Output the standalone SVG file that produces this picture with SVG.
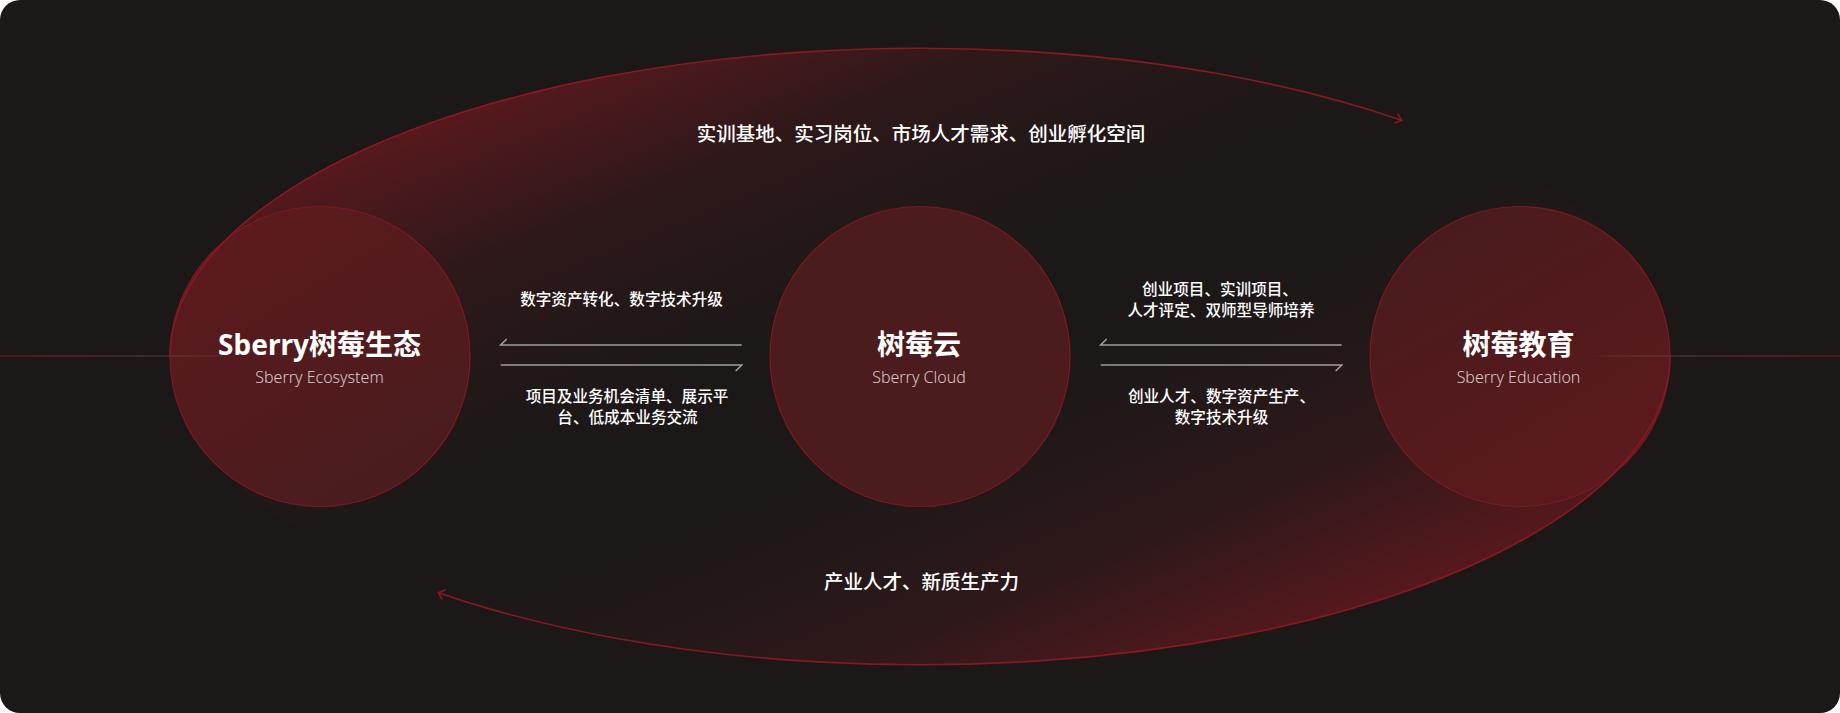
<svg xmlns="http://www.w3.org/2000/svg" width="1840" height="713" viewBox="0 0 1840 713">
  <style>
    .cjk { font-family: 'Noto Sans CJK SC', 'Noto Sans', sans-serif; fill: #ffffff; }
    .title { font-family: 'Noto Sans', 'Noto Sans CJK SC', sans-serif; font-size: 28px; font-weight: 700; fill: #ffffff; text-anchor: middle; }
    .sub { font-family: 'Noto Sans', 'Noto Sans CJK SC', sans-serif; font-size: 16px; font-weight: 300; fill: #d9c9c9; text-anchor: middle; }
    .flow { font-size: 19.5px; font-weight: 500; text-anchor: middle; }
    .lbl { font-size: 15.6px; font-weight: 500; text-anchor: middle; }
    .arc { fill: none; stroke: #861a20; stroke-width: 1.6; }
    .link { fill: none; stroke: #9d9d9d; stroke-width: 1.6; }
    .node { stroke: #7e1a1f; stroke-width: 1.2; }
  </style>
  <defs>
    <linearGradient id="ellGrad" x1="0" y1="0" x2="1" y2="1">
      <stop offset="0" stop-color="#8a1a22" stop-opacity="0.85"/>
      <stop offset="0.15" stop-color="#8a1a22" stop-opacity="0.52"/>
      <stop offset="0.27" stop-color="#8a1a22" stop-opacity="0.18"/>
      <stop offset="0.38" stop-color="#8a1a22" stop-opacity="0.05"/>
      <stop offset="0.46" stop-color="#8a1a22" stop-opacity="0"/>
      <stop offset="0.54" stop-color="#8a1a22" stop-opacity="0"/>
      <stop offset="0.62" stop-color="#8a1a22" stop-opacity="0.05"/>
      <stop offset="0.73" stop-color="#8a1a22" stop-opacity="0.18"/>
      <stop offset="0.85" stop-color="#8a1a22" stop-opacity="0.52"/>
      <stop offset="1" stop-color="#8a1a22" stop-opacity="0.85"/>
    </linearGradient>
    <linearGradient id="leftNode" x1="0" y1="0" x2="0.6" y2="1">
      <stop offset="0" stop-color="#5f191d"/>
      <stop offset="1" stop-color="#4a1c1e"/>
    </linearGradient>
    <linearGradient id="rightNode" x1="0.4" y1="0" x2="1" y2="1">
      <stop offset="0" stop-color="#4a1b1d"/>
      <stop offset="1" stop-color="#5f191d"/>
    </linearGradient>
    <linearGradient id="lineL" gradientUnits="userSpaceOnUse" x1="0" y1="0" x2="232" y2="0">
      <stop offset="0" stop-color="#7e1a20"/>
      <stop offset="0.55" stop-color="#6a3436"/>
      <stop offset="1" stop-color="#8a7676" stop-opacity="0"/>
    </linearGradient>
    <linearGradient id="lineR" gradientUnits="userSpaceOnUse" x1="1840" y1="0" x2="1585" y2="0">
      <stop offset="0" stop-color="#7e1a20"/>
      <stop offset="0.55" stop-color="#6a3436"/>
      <stop offset="1" stop-color="#8a7676" stop-opacity="0"/>
    </linearGradient>
    <marker id="chev" viewBox="-10 -10 20 20" refX="0" refY="0" markerWidth="20" markerHeight="20" markerUnits="userSpaceOnUse" orient="auto">
      <path d="M-6.1 -5.1 L0 0 L-6.1 5.1" fill="none" stroke="#861a20" stroke-width="1.6"/>
    </marker>
  </defs>

  <rect x="0" y="0" width="1840" height="713" rx="20" ry="20" fill="#1c1818"/>

  <g id="cycle-backdrop">
    <ellipse cx="920" cy="356.5" rx="750" ry="308.5" fill="url(#ellGrad)"/>
  </g>

  <g id="node-ecosystem">
    <circle class="node" cx="320" cy="356.5" r="150" fill="url(#leftNode)"/>
    <text class="title" x="319.5" y="355">Sberry树莓生态</text>
    <text class="sub" x="319.5" y="383">Sberry Ecosystem</text>
  </g>
  <g id="node-cloud">
    <circle class="node" cx="920" cy="356.5" r="150" fill="#4b1b1d"/>
    <text class="title" x="919" y="355">树莓云</text>
    <text class="sub" x="919" y="383">Sberry Cloud</text>
  </g>
  <g id="node-education">
    <circle class="node" cx="1520" cy="356.5" r="150" fill="url(#rightNode)"/>
    <text class="title" x="1518.5" y="355">树莓教育</text>
    <text class="sub" x="1518.5" y="383">Sberry Education</text>
  </g>

  <g id="connectors">
    <line x1="0" y1="356" x2="232" y2="356" stroke="url(#lineL)" stroke-width="1.2"/>
    <line x1="1585" y1="356" x2="1840" y2="356" stroke="url(#lineR)" stroke-width="1.2"/>

    <path class="arc" d="M170 356.5 A750 308.5 0 0 1 1401.7 120.3" marker-end="url(#chev)"/>
    <path class="arc" d="M1670 356.5 A750 308.5 0 0 1 438.3 592.7" marker-end="url(#chev)"/>

    <path class="link" d="M741.7 345 H500.7 l6 -6"/>
    <path class="link" d="M500.7 365 H741.7 l-6 6"/>
    <path class="link" d="M1341.7 345 H1100.7 l6 -6"/>
    <path class="link" d="M1100.7 365 H1341.7 l-6 6"/>

    <text class="cjk flow" x="921" y="140.5">实训基地、实习岗位、市场人才需求、创业孵化空间</text>
    <text class="cjk flow" x="921.5" y="588.5">产业人才、新质生产力</text>

    <text class="cjk lbl" x="621.5" y="305">数字资产转化、数字技术升级</text>
    <text class="cjk lbl" x="627" y="402.3">项目及业务机会清单、展示平</text>
    <text class="cjk lbl" x="627.5" y="423">台、低成本业务交流</text>

    <text class="cjk lbl" x="1220" y="295">创业项目、实训项目、</text>
    <text class="cjk lbl" x="1221" y="316.3">人才评定、双师型导师培养</text>
    <text class="cjk lbl" x="1221.5" y="402.3">创业人才、数字资产生产、</text>
    <text class="cjk lbl" x="1221.5" y="423">数字技术升级</text>
  </g>
</svg>
